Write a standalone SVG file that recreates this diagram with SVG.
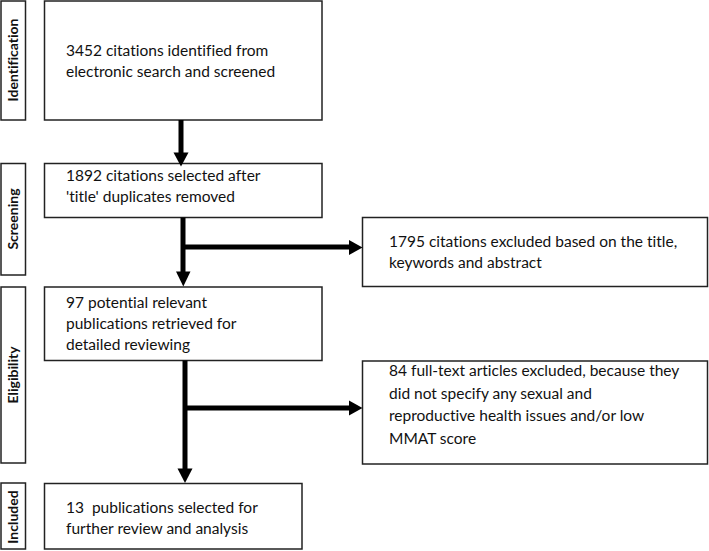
<svg xmlns="http://www.w3.org/2000/svg" width="709" height="551" viewBox="0 0 709 551">
<defs>
<style>
.box{fill:#fff;stroke:#222;stroke-width:1.5}
.t{font-family:Lato,"Liberation Sans",sans-serif;font-size:15.5px;fill:#111;font-variant-ligatures:none;white-space:pre}
.lab{font-family:Lato,"Liberation Sans",sans-serif;font-size:14px;font-weight:bold;fill:#111;text-anchor:middle;font-variant-ligatures:none}
.ln{stroke:#000;stroke-width:5;fill:none}
.hd{fill:#000}
</style>
</defs>
<rect width="709" height="551" fill="#fff"/>
<g id="stage-identification"><rect class="box" x="1" y="1" width="24.5" height="119"/><text class="lab" transform="translate(18,60) rotate(-90)">Identification</text></g>
<g id="stage-screening"><rect class="box" x="1" y="163.5" width="24.5" height="111.5"/><text class="lab" transform="translate(18,219) rotate(-90)">Screening</text></g>
<g id="stage-eligibility"><rect class="box" x="1" y="287" width="24.5" height="176"/><text class="lab" transform="translate(18,375) rotate(-90)">Eligibility</text></g>
<g id="stage-included"><rect class="box" x="1" y="483" width="24.5" height="66"/><text class="lab" transform="translate(18,517) rotate(-90)">Included</text></g>
<g id="node-identified"><rect class="box" x="44.5" y="1" width="277.5" height="119"/><text class="t" x="66" y="55.5">3452 citations identified from</text><text class="t" x="66" y="76.5">electronic search and screened</text></g>
<g id="node-screened"><rect class="box" x="44.5" y="163.5" width="277.5" height="54"/><text class="t" x="66" y="181">1892 citations selected after</text><text class="t" x="66" y="202">'title' duplicates removed</text></g>
<g id="node-excluded1"><rect class="box" x="362.5" y="217.5" width="345" height="69"/><text class="t" x="389" y="246.5">1795 citations excluded based on the title,</text><text class="t" x="389" y="267.5">keywords and abstract</text></g>
<g id="node-eligible"><rect class="box" x="44.5" y="287" width="277.5" height="73.5"/><text class="t" x="66" y="307.5">97 potential relevant</text><text class="t" x="66" y="328.5">publications retrieved for</text><text class="t" x="66" y="350">detailed reviewing</text></g>
<g id="node-excluded2"><rect class="box" x="362.5" y="361" width="345" height="103"/><text class="t" x="389" y="375.5">84 full-text articles excluded, because they</text><text class="t" x="389" y="398.5">did not specify any sexual and</text><text class="t" x="389" y="421">reproductive health issues and/or low</text><text class="t" x="389" y="443.5">MMAT score</text></g>
<g id="node-included"><rect class="box" x="44.5" y="483.5" width="257.5" height="65.5"/><text class="t" x="66" y="512.5" xml:space="preserve">13  publications selected for</text><text class="t" x="66" y="533.5">further review and analysis</text></g>
<g id="connectors">
<line class="ln" x1="181" y1="120" x2="181" y2="153"/><polygon class="hd" points="173.5,152.5 188.5,152.5 181,166.5"/>
<line class="ln" x1="183" y1="217.5" x2="183" y2="272"/><polygon class="hd" points="176,271.5 190.5,271.5 183.3,286.5"/>
<line class="ln" x1="183" y1="247" x2="350" y2="247"/><polygon class="hd" points="349,240 349,255 362.5,247.5"/>
<line class="ln" x1="185" y1="360.5" x2="185" y2="469"/><polygon class="hd" points="177.5,468.5 192.5,468.5 185,483"/>
<line class="ln" x1="185" y1="408" x2="350" y2="408"/><polygon class="hd" points="349,400.5 349,415.5 362.5,408"/>
</g>
</svg>
